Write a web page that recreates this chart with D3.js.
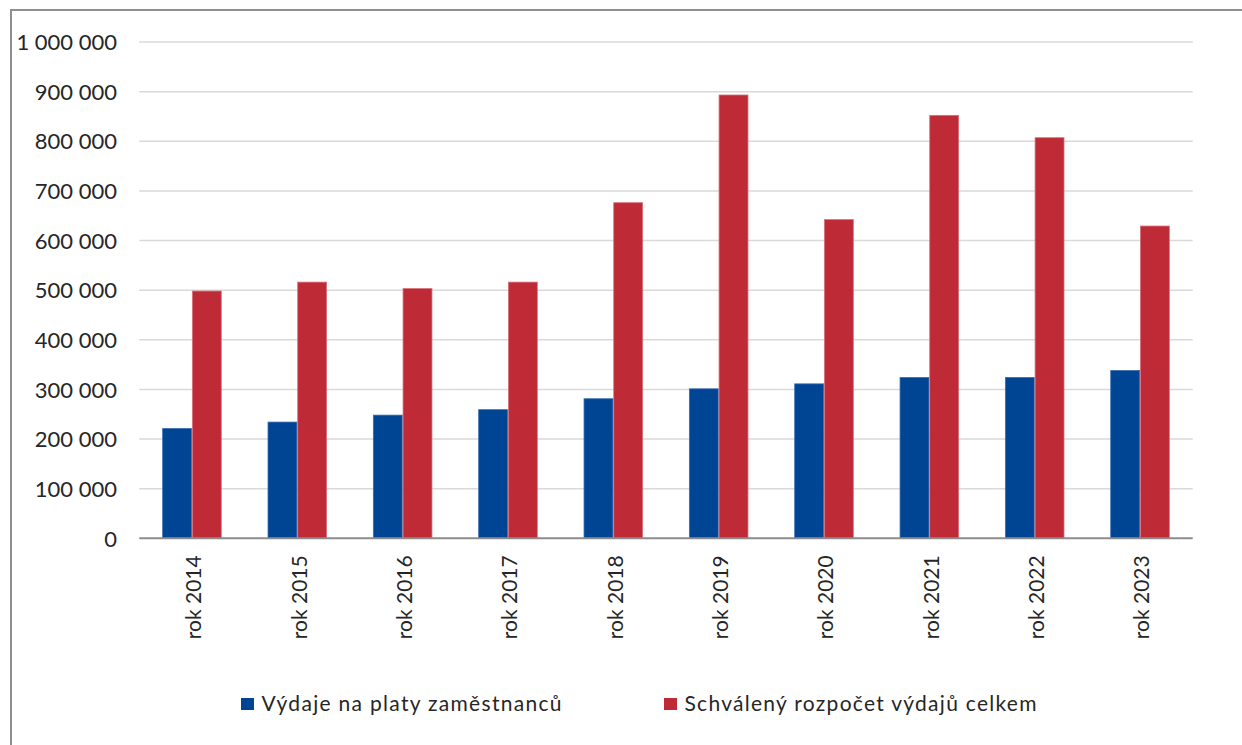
<!DOCTYPE html>
<html>
<head>
<meta charset="utf-8">
<script src="https://cdn.jsdelivr.net/npm/d3@7/dist/d3.min.js"></script>
<style>
  html, body { margin: 0; padding: 0; background: #fff; }
  svg { display: block; }
  text { font-family: Lato, "Open Sans", sans-serif; fill: #262626; }
</style>
</head>
<body>
<svg id="chart" width="1242" height="745"></svg>
<script>
const categories = ["rok 2014","rok 2015","rok 2016","rok 2017","rok 2018","rok 2019","rok 2020","rok 2021","rok 2022","rok 2023"];
const seriesNames = ["Výdaje na platy zaměstnanců", "Schválený rozpočet výdajů celkem"];
const salaries = [222000, 235000, 249000, 260000, 282000, 302000, 312000, 325000, 325000, 339000];
const budget   = [499000, 517000, 504000, 517000, 677000, 894000, 643000, 853000, 808000, 630000];
const yTicks = [0, 100000, 200000, 300000, 400000, 500000, 600000, 700000, 800000, 900000, 1000000];
const colors = ["#004494", "#BE2A36"];
const strokeColors = ["#3a6db3", "#d8707a"];

const svg = d3.select("#chart");
const W = 1242, H = 745;
const plotLeft = 139.3, plotRight = 1192.7, plotTop = 42, plotBottom = 538.3;

const locale = d3.formatLocale({decimal: ",", thousands: " ", grouping: [3], currency: ["", ""]});
const fmt = locale.format(",d");

// frame
svg.append("line").attr("x1", 11).attr("x2", W).attr("y1", 10).attr("y2", 10)
  .attr("stroke", "#8f8f8f").attr("stroke-width", 2);
svg.append("line").attr("x1", 11).attr("x2", 11).attr("y1", 9).attr("y2", H)
  .attr("stroke", "#8f8f8f").attr("stroke-width", 2);

const x = d3.scaleBand().domain(categories).range([plotLeft, plotRight]).paddingInner(0.436).paddingOuter(0.218);
const xs = d3.scaleBand().domain(d3.range(seriesNames.length)).range([0, x.bandwidth()]).padding(0);
const y = d3.scaleLinear().domain([0, 1000000]).range([plotBottom, plotTop]);

// gridlines
svg.append("g").selectAll("line").data(yTicks.filter(d => d > 0)).join("line")
  .attr("x1", plotLeft).attr("x2", plotRight)
  .attr("y1", d => y(d)).attr("y2", d => y(d))
  .attr("stroke", "#d9d9d9").attr("stroke-width", 1.5);

// y axis labels
const yAxis = d3.axisLeft(y).tickValues(yTicks).tickFormat(fmt).tickSize(0).tickPadding(0);
const gy = svg.append("g").attr("transform", `translate(${117},0)`).call(yAxis);
gy.select(".domain").remove();
gy.selectAll("text").style("font-size", "22px").attr("fill", "#262626").attr("dy", "0.35em")
  .style("font-family", "Lato, 'Open Sans', sans-serif");

// bars
const data = categories.map((c, i) => ({cat: c, vals: [salaries[i], budget[i]]}));
const groups = svg.append("g").selectAll("g").data(data).join("g")
  .attr("transform", d => `translate(${x(d.cat)},0)`);
groups.selectAll("rect").data(d => d.vals.map((v, k) => ({v, k}))).join("rect")
  .attr("x", d => xs(d.k) + 0.4)
  .attr("width", xs.bandwidth() - 0.8)
  .attr("y", d => y(d.v) + 0.4)
  .attr("height", d => y(0) - y(d.v) - 0.4)
  .attr("fill", d => colors[d.k])
  .attr("stroke", d => strokeColors[d.k])
  .attr("stroke-width", 0.8);

// x axis baseline
svg.append("line").attr("x1", plotLeft).attr("x2", plotRight).attr("y1", plotBottom).attr("y2", plotBottom)
  .attr("stroke", "#8c8c8c").attr("stroke-width", 2);

// x labels
const xAxis = d3.axisBottom(x).tickSize(0).tickPadding(0);
const gx = svg.append("g").attr("transform", `translate(0,${plotBottom})`).call(xAxis);
gx.select(".domain").remove();
gx.selectAll("text")
  .attr("transform", "rotate(-90)")
  .attr("text-anchor", "end")
  .attr("x", -17)
  .attr("y", 2)
  .attr("dy", "0.35em")
  .style("font-size", "21px")
  .style("font-family", "Lato, 'Open Sans', sans-serif")
  .attr("fill", "#262626");

// legend
const legendX = [241, 664];
const legendW = [300, 352];
const lg = svg.append("g").selectAll("g").data(seriesNames).join("g")
  .attr("transform", (d, i) => `translate(${legendX[i]},698)`);
lg.append("rect").attr("width", 13).attr("height", 12).attr("fill", (d, i) => colors[i]);
lg.append("text").attr("x", 20.5).attr("y", 6).attr("dy", "0.35em")
  .attr("textLength", (d, i) => legendW[i]).attr("lengthAdjust", "spacing")
  .style("font-size", "21px").text(d => d);
</script>
</body>
</html>
